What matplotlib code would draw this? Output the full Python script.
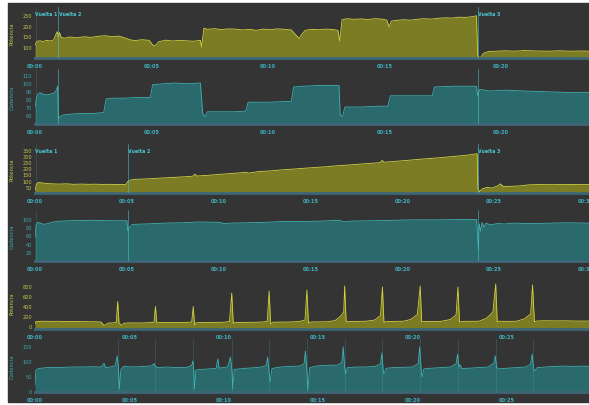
"""Three rides, each drawn as a power panel over a cadence panel."""

import matplotlib

matplotlib.use("Agg")
import matplotlib.pyplot as plt
from matplotlib.patches import Rectangle

# ride 1: (minutes, watts) and (minutes, rpm)
W1_POWER = [
    (0.0, 108), (0.08, 126), (0.2, 129), (0.35, 126), (0.5, 131), (0.65, 128),
    (0.8, 133), (0.9, 160), (0.95, 172), (1.0, 148), (1.05, 168), (1.12, 146),
    (1.25, 141), (1.5, 147), (1.8, 143), (2.1, 148), (2.4, 145), (2.7, 150),
    (3.0, 153), (3.3, 148), (3.6, 151), (3.9, 141), (4.1, 133), (4.3, 130),
    (4.6, 134), (4.9, 131), (5.05, 110), (5.15, 104), (5.3, 124), (5.6, 132),
    (5.9, 128), (6.2, 131), (6.5, 129), (6.8, 127), (7.1, 131), (7.15, 100),
    (7.25, 188), (7.4, 183), (7.7, 186), (8.0, 182), (8.3, 185), (8.6, 184),
    (8.9, 180), (9.2, 183), (9.5, 178), (9.8, 184), (10.1, 181), (10.4, 185),
    (10.7, 183), (11.0, 180), (11.25, 150), (11.35, 140), (11.45, 160),
    (11.6, 178), (11.9, 183), (12.2, 181), (12.5, 184), (12.8, 182), (13.0, 178),
    (13.08, 128), (13.18, 228), (13.4, 233), (13.7, 230), (14.0, 232),
    (14.3, 229), (14.6, 233), (14.9, 231), (15.1, 226), (15.2, 195), (15.3, 222),
    (15.5, 225), (15.8, 228), (16.1, 226), (16.4, 230), (16.7, 233), (17.0, 231),
    (17.3, 235), (17.6, 237), (17.9, 236), (18.2, 240), (18.5, 239), (18.8, 243),
    (18.95, 247), (19.0, 62), (19.1, 45), (19.25, 70), (19.45, 78), (19.8, 80),
    (20.2, 82), (20.6, 80), (21.0, 83), (21.5, 81), (22.0, 80), (22.5, 82),
    (23.0, 80), (23.5, 81), (23.8, 80),
]
W1_CADENCE = [
    (0.0, 70), (0.08, 84), (0.2, 88), (0.35, 86), (0.5, 85), (0.65, 86),
    (0.8, 87), (0.92, 91), (0.97, 96), (1.0, 55), (1.08, 58), (1.2, 60),
    (1.5, 61), (2.0, 62), (2.5, 62), (2.95, 63), (3.05, 80), (3.3, 81),
    (3.8, 81), (4.4, 82), (4.95, 82), (5.05, 98), (5.5, 99), (6.0, 100),
    (6.5, 99), (7.1, 100), (7.2, 62), (7.3, 58), (7.4, 64), (8.0, 64),
    (8.6, 64), (9.05, 65), (9.15, 76), (10.0, 76), (11.0, 77), (11.1, 95),
    (11.5, 96), (12.3, 97), (13.05, 97), (13.1, 60), (13.2, 58), (13.3, 70),
    (14.0, 70), (14.8, 71), (15.15, 71), (15.25, 84), (16.0, 84), (17.05, 84),
    (17.15, 95), (18.0, 96), (18.95, 96), (19.0, 84), (19.1, 92), (19.5, 90),
    (20.2, 91), (21.0, 90), (22.0, 89), (23.0, 88), (23.8, 88),
]
W1_LAPS = [0.0, 1.0, 19.0]

# ride 2
W2_POWER = [
    (0.0, 20), (0.08, 72), (0.2, 86), (0.35, 82), (0.6, 77), (0.9, 74),
    (1.3, 72), (1.7, 74), (2.1, 70), (2.5, 72), (2.9, 70), (3.3, 71),
    (3.7, 69), (4.1, 70), (4.5, 68), (4.95, 69), (5.05, 92), (5.2, 104),
    (5.4, 110), (6.0, 113), (6.6, 118), (7.2, 123), (7.8, 128), (8.4, 133),
    (8.6, 136), (8.7, 152), (8.8, 137), (9.4, 142), (10.0, 150), (10.6, 156),
    (11.2, 163), (11.5, 168), (11.6, 160), (12.2, 173), (12.8, 178),
    (13.4, 186), (14.0, 192), (14.6, 199), (15.2, 205), (15.8, 211),
    (16.4, 219), (17.0, 225), (17.6, 232), (18.2, 238), (18.8, 245),
    (18.9, 263), (19.0, 248), (19.6, 255), (20.2, 262), (20.8, 270),
    (21.4, 277), (22.0, 284), (22.6, 292), (23.2, 300), (23.6, 306),
    (24.0, 315), (24.08, 318), (24.12, 40), (24.2, 10), (24.35, 32),
    (24.6, 45), (24.9, 40), (25.2, 58), (25.35, 74), (25.5, 52), (25.9, 54),
    (26.4, 57), (26.9, 66), (27.5, 68), (28.2, 67), (29.0, 69), (29.6, 68),
    (30.2, 68),
]
W2_CADENCE = [
    (0.0, 55), (0.06, 86), (0.15, 92), (0.3, 90), (0.5, 87), (0.7, 89),
    (1.0, 93), (1.4, 95), (2.0, 96), (3.0, 97), (4.0, 96), (5.0, 96),
    (5.05, 72), (5.15, 80), (5.3, 87), (6.0, 88), (7.0, 90), (8.0, 91),
    (9.0, 93), (10.0, 92), (10.3, 89), (10.6, 90), (11.5, 91), (12.5, 92),
    (13.5, 94), (14.5, 94), (15.5, 95), (16.6, 97), (16.8, 93), (17.2, 95),
    (18.5, 96), (19.5, 97), (20.5, 98), (22.0, 98), (23.0, 99), (24.05, 99),
    (24.1, 60), (24.15, 25), (24.2, 88), (24.27, 70), (24.35, 92), (24.45, 80),
    (24.55, 90), (24.8, 86), (25.2, 89), (25.6, 88), (26.0, 90), (27.0, 89),
    (28.0, 90), (29.0, 91), (30.2, 90),
]
W2_LAPS = [0.0, 5.05, 24.1]

# ride 3 (sprints)
W3_POWER = [
    (0.0, 40), (0.05, 90), (0.4, 95), (0.8, 92), (1.2, 94), (1.6, 90),
    (2.0, 92), (2.4, 88), (2.8, 86), (3.2, 84), (3.5, 80), (3.65, 10),
    (3.75, 30), (3.9, 60), (4.1, 62), (4.3, 70), (4.38, 490), (4.45, 60),
    (4.6, 10), (4.7, 55), (5.0, 62), (5.5, 60), (6.0, 65), (6.3, 75),
    (6.38, 390), (6.45, 60), (6.6, 70), (7.0, 68), (7.5, 70), (8.0, 72),
    (8.3, 80), (8.38, 390), (8.45, 20), (8.55, 65), (9.0, 70), (9.5, 72),
    (10.0, 75), (10.3, 90), (10.42, 660), (10.5, 50), (10.6, 70), (11.0, 72),
    (11.5, 74), (12.0, 78), (12.3, 95), (12.4, 700), (12.48, 40), (12.6, 75),
    (13.0, 78), (13.5, 80), (14.0, 90), (14.3, 120), (14.4, 720), (14.48, 60),
    (14.6, 80), (15.0, 82), (15.5, 85), (15.9, 110), (16.2, 200), (16.35, 280),
    (16.4, 800), (16.48, 80), (16.6, 90), (17.0, 92), (17.5, 95), (18.0, 120),
    (18.3, 210), (18.4, 780), (18.48, 70), (18.6, 90), (19.0, 92), (19.5, 95),
    (19.9, 130), (20.25, 230), (20.4, 800), (20.48, 80), (20.6, 92), (21.0, 90),
    (21.5, 93), (22.0, 130), (22.3, 220), (22.4, 780), (22.48, 80), (22.6, 92),
    (23.0, 94), (23.5, 95), (23.9, 150), (24.25, 280), (24.4, 840),
    (24.48, 80), (24.6, 95), (25.0, 92), (25.5, 95), (25.9, 140), (26.25, 240),
    (26.35, 820), (26.45, 85), (26.6, 100), (27.0, 105), (27.5, 102),
    (28.0, 104), (28.5, 100), (29.0, 98), (29.4, 100),
]
W3_CADENCE = [
    (0.0, 20), (0.05, 70), (0.2, 75), (0.6, 78), (1.0, 78), (1.5, 79),
    (2.0, 80), (2.5, 80), (3.0, 81), (3.5, 80), (3.65, 92), (3.75, 78),
    (4.0, 80), (4.25, 85), (4.35, 117), (4.42, 80), (4.47, 7), (4.55, 72),
    (4.7, 82), (5.2, 80), (5.8, 82), (6.2, 84), (6.3, 92), (6.4, 80),
    (6.6, 78), (7.0, 80), (7.5, 78), (8.0, 78), (8.3, 85), (8.36, 100),
    (8.42, 60), (8.45, 7), (8.52, 70), (8.8, 72), (9.3, 74), (9.6, 76),
    (9.68, 107), (9.75, 76), (10.2, 80), (10.35, 113), (10.43, 70),
    (10.47, 7), (10.55, 72), (11.0, 75), (11.5, 77), (12.0, 80), (12.25, 85),
    (12.32, 113), (12.4, 60), (12.45, 30), (12.55, 75), (13.0, 80),
    (13.5, 82), (14.0, 83), (14.25, 90), (14.32, 133), (14.4, 70),
    (14.45, 3), (14.55, 78), (15.0, 84), (15.5, 86), (16.0, 86), (16.25, 95),
    (16.32, 147), (16.4, 80), (16.45, 57), (16.55, 78), (17.0, 80),
    (17.5, 80), (18.0, 82), (18.3, 90), (18.37, 127), (18.44, 70),
    (18.48, 57), (18.6, 76), (19.0, 78), (19.5, 79), (20.0, 80), (20.3, 92),
    (20.37, 147), (20.45, 75), (20.5, 47), (20.6, 74), (21.0, 76), (21.5, 78),
    (22.0, 80), (22.3, 90), (22.38, 123), (22.45, 80), (22.5, 88), (22.6, 75),
    (23.0, 76), (23.5, 78), (24.0, 80), (24.3, 92), (24.38, 117), (24.45, 78),
    (24.6, 74), (25.0, 76), (25.5, 78), (26.0, 80), (26.25, 90), (26.33, 123),
    (26.4, 75), (26.45, 67), (26.6, 78), (27.0, 80), (27.5, 82), (28.0, 83),
    (28.5, 82), (29.0, 83), (29.4, 82),
]
W3_LAPS = [4.38, 6.38, 8.38, 10.42, 12.4, 14.4, 16.4, 18.4, 20.4, 22.4, 24.4, 26.35]

LAP_NAMES = ["Vuelta 1", "Vuelta 2", "Vuelta 3"]

POWER_TICKS_1 = [100, 150, 200, 250]
CADENCE_TICKS_1 = [60, 70, 80, 90, 100, 110]
POWER_TICKS_2 = [50, 100, 150, 200, 250, 300, 350]
CADENCE_TICKS_2 = [20, 40, 60, 80, 100]
POWER_TICKS_3 = [0, 200, 400, 600, 800]
CADENCE_TICKS_3 = [0, 50, 100, 150]

W, H = 589, 406
BG = "#343434"
AXIS_BLUE = "#3d6677"
TIME_COLOR = "#3fb4c4"
LAP_COLOR = "#4cc6d2"
STYLES = {
    "power": dict(fill="#7c7c25", line="#d2d240", text="#c8c84a", label="Potencia"),
    "cadence": dict(fill="#2b6a6c", line="#3db0b2", text="#3aa8aa", label="Cadencia"),
}


def add_panel(fig, top, bottom, series, kind, ylim, yticks, xmax):
    ax = fig.add_axes([35 / W, 1 - bottom / H, (W - 35) / W, (bottom - top) / H])
    style = STYLES[kind]
    ax.set_facecolor(BG)
    times = [p[0] for p in series]
    values = [p[1] for p in series]
    ax.fill_between(times, values, ylim[0], color=style["fill"], lw=0, zorder=1)
    ax.plot(times, values, color=style["line"], lw=0.6, zorder=2)
    ax.set_xlim(0, xmax)
    ax.set_ylim(*ylim)
    ax.set_yticks(yticks)
    xt = list(range(0, int(xmax) + 1, 5))
    ax.set_xticks(xt)
    ax.set_xticklabels([f"00:{m:02d}" for m in xt])
    for side in ("top", "right", "left"):
        ax.spines[side].set_visible(False)
    ax.spines["bottom"].set_color(AXIS_BLUE)
    ax.spines["bottom"].set_linewidth(2.0)
    ax.tick_params(axis="x", length=0, pad=3.5, labelsize=3.6, labelcolor=TIME_COLOR)
    ax.tick_params(axis="y", length=0, pad=2, labelsize=3.6, labelcolor=style["text"])
    for lbl in ax.get_xticklabels():
        lbl.set_fontweight("bold")
    ax.set_ylabel(style["label"], color=style["text"], fontsize=3.8)
    ax.yaxis.set_label_coords(-20 / (W - 35), 0.5)
    return ax


def mark_laps(ax, laps, names=None, faint=False):
    for i, t in enumerate(laps):
        if t == 0.0:
            ax.axvline(0.05, color=LAP_COLOR, lw=0.5, ls=(0, (1, 1.5)), alpha=0.6, zorder=3)
        else:
            ax.axvline(t, color=LAP_COLOR, lw=0.5, alpha=0.25 if faint else 0.75, zorder=3)
        if names:
            ax.text(t + 0.02, 0.87, names[i], transform=ax.get_xaxis_transform(),
                    color=LAP_COLOR, fontsize=3.4, fontweight="bold", va="center",
                    ha="left", zorder=4)


fig = plt.figure(figsize=(W / 100, H / 100), dpi=100, facecolor="white")
fig.patches.append(Rectangle((8 / W, 3 / H), (W - 8) / W, (H - 7) / H,
                             transform=fig.transFigure, color=BG, zorder=-1))

x1, x2, x3 = 23.78, 30.17, 29.34

ax = add_panel(fig, 8, 59, W1_POWER, "power", (48, 288), POWER_TICKS_1, x1)
mark_laps(ax, W1_LAPS, LAP_NAMES)
ax = add_panel(fig, 70, 125, W1_CADENCE, "cadence", (48.75, 117.5), CADENCE_TICKS_1, x1)
mark_laps(ax, W1_LAPS)

ax = add_panel(fig, 145, 194, W2_POWER, "power", (0, 395), POWER_TICKS_2, x2)
mark_laps(ax, W2_LAPS, LAP_NAMES)
ax = add_panel(fig, 211, 262, W2_CADENCE, "cadence", (-2, 122), CADENCE_TICKS_2, x2)
mark_laps(ax, W2_LAPS)

ax = add_panel(fig, 277, 330, W3_POWER, "power", (-60, 1000), POWER_TICKS_3, x3)
ax = add_panel(fig, 340, 393, W3_CADENCE, "cadence", (-3, 173), CADENCE_TICKS_3, x3)
mark_laps(ax, W3_LAPS, faint=True)

fig.savefig("out.png", dpi=100, facecolor="white")
